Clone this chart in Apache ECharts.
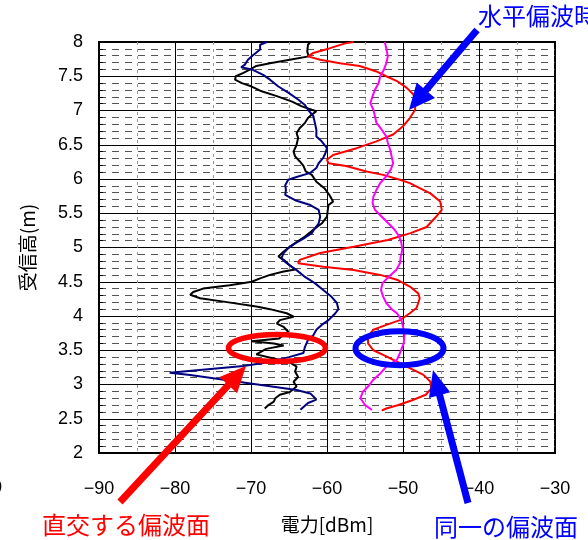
<!DOCTYPE html>
<html><head><meta charset="utf-8">
<script src="https://cdn.jsdelivr.net/npm/echarts@6/dist/echarts.min.js"></script>
<style>html,body{margin:0;padding:0;background:#fff}#c{width:588px;height:540px}</style>
</head><body><div id="c"></div>
<script>
// ---- data (power in dBm, receive height in m) ----
var xTicks = [-90, -80, -70, -60, -50, -40, -30];
var yTicks = [2, 2.5, 3, 3.5, 4, 4.5, 5, 5.5, 6, 6.5, 7, 7.5, 8];

var blackH = [8.00,7.96,7.86,7.79,7.74,7.69,7.65,7.60,7.55,7.50,7.45,7.40,7.35,7.28,7.21,7.13,7.06,7.01,6.99,6.94,6.89,6.82,6.74,6.67,6.60,6.50,6.40,6.33,6.26,6.19,6.11,6.06,5.96,5.86,5.77,5.67,5.62,5.55,5.45,5.35,5.26,5.16,5.08,5.01,4.94,4.87,4.82,4.74,4.68,4.65,4.60,4.55,4.50,4.45,4.40,4.35,4.31,4.26,4.21,4.14,4.10,4.04,3.99,3.94,3.89,3.84,3.77,3.72,3.67,3.63,3.60,3.57,3.52,3.44,3.38,3.33,3.26,3.19,3.11,3.04,2.97,2.89,2.85,2.80,2.75,2.70,2.65];
var blackP = [-62.2,-62.5,-62.6,-62.4,-64.9,-67.5,-69.3,-70.1,-71.0,-72.0,-72.1,-71.2,-69.9,-68.6,-66.6,-64.6,-63.3,-62.0,-61.4,-62.0,-62.5,-62.9,-63.6,-64.0,-63.8,-64.0,-64.4,-64.2,-63.6,-63.1,-62.8,-62.0,-61.4,-60.3,-59.7,-59.2,-59.8,-59.9,-60.0,-60.7,-61.8,-62.9,-64.0,-64.9,-65.7,-66.4,-65.7,-64.9,-64.2,-65.7,-67.5,-68.8,-69.9,-72.8,-76.3,-77.6,-78.0,-76.7,-73.6,-69.3,-67.5,-65.3,-64.4,-66.2,-66.6,-65.7,-65.1,-65.8,-66.3,-69.9,-67.0,-65.7,-68.0,-69.3,-67.0,-65.0,-64.0,-64.2,-63.8,-64.4,-64.0,-64.9,-66.2,-66.8,-67.0,-67.7,-68.2];

var navyH = [8.00,7.96,7.89,7.81,7.74,7.67,7.63,7.60,7.52,7.45,7.35,7.26,7.16,7.08,7.01,6.92,6.82,6.72,6.62,6.55,6.45,6.38,6.31,6.23,6.16,6.09,6.03,5.99,5.91,5.84,5.77,5.69,5.62,5.55,5.45,5.35,5.28,5.21,5.13,5.06,4.99,4.92,4.84,4.77,4.67,4.57,4.48,4.38,4.28,4.19,4.10,4.04,3.94,3.87,3.80,3.72,3.65,3.55,3.46,3.40,3.33,3.27,3.17,3.14,2.92,2.87,2.78,2.73,2.63];
var navyP = [-67.9,-68.8,-68.8,-69.7,-70.4,-70.8,-71.3,-69.9,-68.4,-67.5,-66.4,-65.1,-63.8,-62.9,-62.5,-61.8,-61.6,-61.4,-61.4,-60.7,-60.0,-60.2,-60.5,-61.1,-61.4,-62.2,-64.0,-65.1,-65.5,-65.4,-65.5,-64.2,-62.2,-61.1,-60.9,-61.1,-61.6,-62.0,-63.1,-64.2,-65.1,-65.7,-66.0,-65.3,-64.0,-62.9,-61.6,-60.5,-59.4,-58.7,-58.5,-58.9,-59.8,-60.7,-61.4,-61.8,-62.5,-62.9,-63.1,-65.0,-67.5,-71.0,-80.7,-78.0,-64.0,-62.2,-61.4,-62.5,-63.5];

var redH = [8.00,7.98,7.91,7.84,7.79,7.74,7.69,7.65,7.57,7.50,7.43,7.33,7.23,7.13,7.01,6.89,6.77,6.65,6.55,6.45,6.35,6.28,6.23,6.19,6.11,6.06,5.99,5.94,5.89,5.79,5.67,5.55,5.43,5.30,5.21,5.11,5.01,4.92,4.82,4.77,4.72,4.67,4.60,4.53,4.43,4.33,4.26,4.19,4.12,4.04,3.94,3.87,3.80,3.70,3.60,3.50,3.41,3.31,3.24,3.14,3.04,2.94,2.85,2.77,2.70,2.65,2.62];
var redP = [-56.5,-57.6,-59.6,-61.8,-62.5,-60.9,-58.3,-55.7,-53.5,-52.2,-50.8,-49.5,-48.6,-48.4,-48.4,-49.1,-50.0,-51.3,-53.5,-56.1,-59.2,-60.0,-59.8,-57.5,-54.8,-52.6,-50.4,-49.1,-48.2,-46.4,-45.1,-44.9,-45.8,-46.9,-49.0,-52.0,-56.5,-60.9,-63.6,-63.8,-60.5,-56.5,-53.0,-50.8,-49.1,-48.0,-47.8,-48.0,-48.2,-49.1,-50.4,-52.2,-53.9,-54.6,-54.6,-53.9,-52.2,-50.4,-49.1,-47.3,-46.4,-46.3,-47.0,-48.8,-50.6,-52.2,-52.8];

var magentaH = [8.00,7.91,7.79,7.69,7.60,7.50,7.40,7.30,7.21,7.11,7.01,6.92,6.82,6.72,6.62,6.53,6.43,6.33,6.23,6.14,6.04,5.94,5.84,5.74,5.65,5.55,5.45,5.35,5.26,5.16,5.06,4.96,4.87,4.77,4.67,4.57,4.48,4.38,4.28,4.19,4.10,4.04,3.94,3.75,3.60,3.46,3.36,3.26,3.16,3.07,2.97,2.89,2.80,2.70,2.63];
var magentaP = [-52.4,-52.2,-52.0,-52.2,-52.5,-53.0,-53.2,-53.7,-54.0,-54.3,-53.9,-53.7,-53.5,-52.8,-52.2,-52.0,-51.7,-51.5,-51.3,-51.6,-52.2,-53.0,-53.5,-53.9,-54.0,-53.7,-52.8,-51.9,-51.1,-50.5,-50.2,-50.1,-50.3,-50.4,-50.9,-51.9,-52.7,-52.9,-52.6,-52.2,-51.5,-50.8,-50.2,-49.8,-49.9,-50.4,-50.8,-52.2,-53.0,-53.9,-54.6,-55.3,-55.6,-55.0,-54.1];

function pairs(p, h) { return p.map(function (v, i) { return [v, h[i]]; }); }

var FONT = '"Liberation Sans", Arial, "Noto Sans CJK JP", sans-serif';
var JP = '"Noto Sans CJK JP", "Liberation Sans", sans-serif';

var chart = echarts.init(document.getElementById('c'), null, { renderer: 'canvas' });

function arrow(x1, y1, x2, y2, color, w, hl, hw) {
  var dx = x2 - x1, dy = y2 - y1, L = Math.sqrt(dx * dx + dy * dy);
  var ux = dx / L, uy = dy / L, px = -uy, py = ux;
  var bx = x2 - ux * hl, by = y2 - uy * hl;
  return [
    { type: 'line', shape: { x1: x1, y1: y1, x2: bx + ux * 2, y2: by + uy * 2 }, style: { stroke: color, lineWidth: w }, z: 100 },
    { type: 'polygon', shape: { points: [[x2, y2], [bx + px * hw / 2, by + py * hw / 2], [bx - px * hw / 2, by - py * hw / 2]] }, style: { fill: color }, z: 100 }
  ];
}

var graphics = []
  .concat([
    { type: 'ellipse', shape: { cx: 277, cy: 348, rx: 48.5, ry: 13.5 }, style: { fill: null, stroke: '#ff0000', lineWidth: 5.5 }, z: 100 },
    { type: 'ellipse', shape: { cx: 399.5, cy: 348.3, rx: 44, ry: 17 }, style: { fill: null, stroke: '#0000ff', lineWidth: 6 }, z: 100 }
  ])
  .concat(arrow(120, 502, 246, 366, '#ff0000', 7, 26, 24))
  .concat(arrow(468, 503, 433, 370, '#0000ff', 7, 26, 22))
  .concat(arrow(477, 30, 409, 110, '#0000ff', 7, 26, 24))
  .concat([
    { type: 'text', x: 478, y: 16, style: { text: '水平偏波時', fill: '#0000ff', font: '24px ' + JP, textVerticalAlign: 'middle' }, z: 100 },
    { type: 'text', x: 42, y: 525, style: { text: '直交する偏波面', fill: '#ff0000', font: '24px ' + JP, textVerticalAlign: 'middle' }, z: 100 },
    { type: 'text', x: 434, y: 527, style: { text: '同一の偏波面', fill: '#0000ff', font: '24px ' + JP, textVerticalAlign: 'middle' }, z: 100 },
    { type: 'text', x: -8, y: 488, style: { text: '0', fill: '#000', font: '18px ' + FONT, textVerticalAlign: 'middle' }, z: 100 }
  ]);

chart.setOption({
  animation: false,
  backgroundColor: '#fff',
  grid: { left: 99, right: 33, top: 42, bottom: 87, outerBoundsMode: 'none', containLabel: false, show: true, borderColor: '#000', borderWidth: 2, backgroundColor: '#fff' },
  xAxis: {
    type: 'value', min: xTicks[0], max: xTicks[xTicks.length - 1], interval: 10,
    name: '電力[dBm]', nameLocation: 'middle', nameGap: 62,
    nameTextStyle: { fontFamily: JP, fontSize: 19, color: '#000' },
    axisLine: { show: true, lineStyle: { color: '#000', width: 2 } },
    axisTick: { show: false },
    axisLabel: { margin: 27, fontFamily: FONT, fontSize: 18, color: '#000',
      formatter: function (v) { return xTicks.indexOf(v) >= 0 ? String(v).replace('-', '\u2212') : ''; } },
    splitLine: { show: true, lineStyle: { color: '#000', width: 1 } },
    minorTick: { show: false, splitNumber: 2 },
    minorSplitLine: { show: true, lineStyle: { color: '#999', width: 1, type: [3, 4] } }
  },
  yAxis: {
    type: 'value', min: yTicks[0], max: yTicks[yTicks.length - 1], interval: 0.5,
    name: '受信高(m)', nameLocation: 'middle', nameGap: 62, nameRotate: 90,
    nameTextStyle: { fontFamily: JP, fontSize: 19, color: '#000' },
    axisLine: { show: true, lineStyle: { color: '#000', width: 2 } },
    axisTick: { show: true, inside: true, length: 6, lineStyle: { color: '#000' } },
    minorTick: { show: true, splitNumber: 5, length: 4, lineStyle: { color: '#000' } },
    axisLabel: { margin: 16, fontFamily: FONT, fontSize: 18, color: '#000',
      formatter: function (v) { return String(v); } },
    splitLine: { show: true, lineStyle: { color: '#000', width: 1 } },
    minorSplitLine: { show: true, lineStyle: { color: '#555', width: 1, type: [7, 6] } }
  },
  series: [
    { type: 'line', data: pairs(blackP, blackH), showSymbol: false, symbol: 'none', lineStyle: { color: '#000000', width: 2 }, z: 5 },
    { type: 'line', data: pairs(navyP, navyH), showSymbol: false, symbol: 'none', lineStyle: { color: '#000080', width: 2 }, z: 5 },
    { type: 'line', data: pairs(redP, redH), showSymbol: false, symbol: 'none', lineStyle: { color: '#ff0000', width: 2 }, z: 5 },
    { type: 'line', data: pairs(magentaP, magentaH), showSymbol: false, symbol: 'none', lineStyle: { color: '#ff00ff', width: 2 }, z: 5 }
  ],
  graphic: graphics
});
</script>
</body></html>
